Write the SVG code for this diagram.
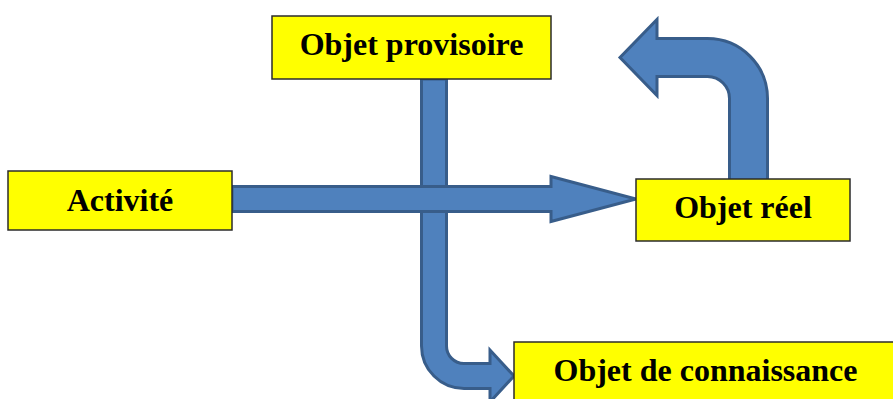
<svg xmlns="http://www.w3.org/2000/svg" width="893" height="399" viewBox="0 0 893 399">
<style>
.arrow{fill:#4F81BD;stroke:#385D8A;stroke-width:3;stroke-linejoin:miter}
.box{fill:#FFFF00;stroke:#2b2b2b;stroke-width:1.5}
.lbl{font-family:"Liberation Serif","Times New Roman",serif;font-weight:bold;font-size:32px;fill:#000;text-anchor:middle}
</style>
<rect width="893" height="399" fill="#fff"/>
<g id="connectors">
<path class="arrow" d="M 421.5 79 L 421.5 346 A 42.5 42.5 0 0 0 464 388.5 L 490 388.5 L 490 402 L 514 376 L 490 350 L 490 363.5 L 464 363.5 A 17.5 17.5 0 0 1 446.5 346 L 446.5 79 Z"/>
<path class="arrow" d="M 232 186.5 L 551 186.5 L 551 176.5 L 636 199 L 551 221.5 L 551 211.5 L 232 211.5 Z"/>
<path class="arrow" d="M 729.5 185 L 729.5 98.5 A 22 22 0 0 0 707.5 76.5 L 657 76.5 L 657 95.5 L 620 57.5 L 657 19.5 L 657 38.5 L 707.5 38.5 A 60 60 0 0 1 767.5 98.5 L 767.5 185 Z"/>
</g>
<g id="objet-provisoire">
<rect class="box" x="272" y="16" width="279" height="63"/>
<text class="lbl" x="411.5" y="55">Objet provisoire</text>
</g>
<g id="activite">
<rect class="box" x="8" y="171" width="224" height="59"/>
<text class="lbl" x="120" y="211">Activité</text>
</g>
<g id="objet-reel">
<rect class="box" x="636" y="179" width="214" height="62"/>
<text class="lbl" x="743" y="218">Objet réel</text>
</g>
<g id="objet-connaissance">
<rect class="box" x="514" y="342" width="400" height="70"/>
<text class="lbl" x="705.5" y="381">Objet de connaissance</text>
</g>
</svg>
